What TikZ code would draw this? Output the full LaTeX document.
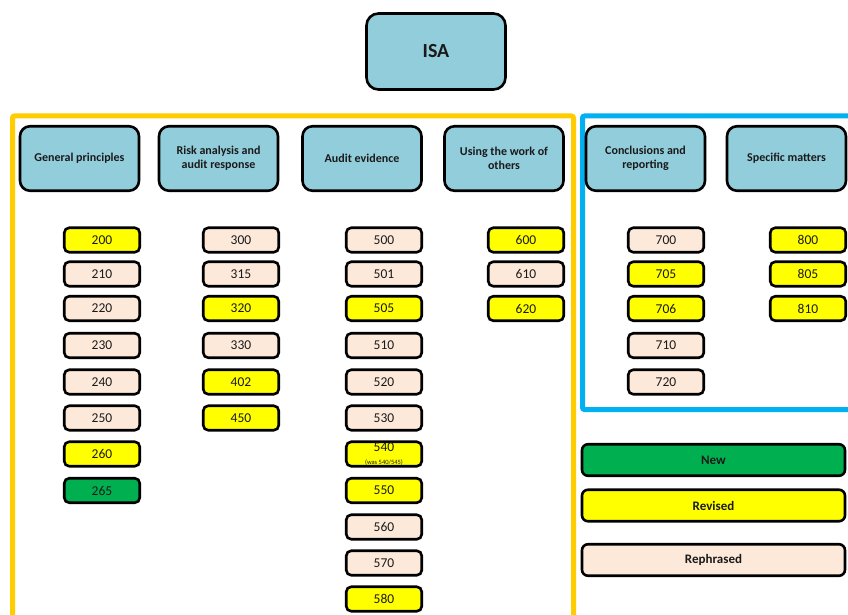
\documentclass[tikz,border=0pt]{standalone}
\usepackage{fontspec}
\setmainfont{Carlito}
\definecolor{catblue}{HTML}{92CDDC}
\definecolor{peach}{HTML}{FDE9D9}
\definecolor{revyellow}{HTML}{FFFF00}
\definecolor{newgreen}{HTML}{00B050}
\definecolor{frameyellow}{HTML}{FFCC00}
\definecolor{frameblue}{HTML}{00B0F0}
\definecolor{txt}{HTML}{1A1A1A}
\tikzset{
  catbox/.style={draw=black, line width=2.6pt, rounded corners=10pt, fill=catblue,
    minimum width=119pt, minimum height=64.5pt, inner sep=0pt, align=center,
    text=txt, font=\fontsize{12}{14}\selectfont\bfseries},
  numbox/.style={draw=black, line width=2.6pt, rounded corners=5pt,
    minimum width=75.5pt, minimum height=24.5pt, inner sep=0pt, align=center,
    text=txt, font=\fontsize{13.5}{14}\selectfont},
  Y/.style={fill=revyellow},
  P/.style={fill=peach},
  G/.style={fill=newgreen},
  legbox/.style={draw=black, line width=2.6pt, rounded corners=6pt,
    minimum width=263pt, minimum height=31.5pt, inner sep=0pt,
    text=txt, font=\fontsize{13}{15}\selectfont\bfseries},
  frame/.style={line width=5pt, rounded corners=2pt}
}
\begin{document}
\begin{tikzpicture}[x=1pt,y=-1pt]
\useasboundingbox (0,0) rectangle (848,615);
\clip (0,0) rectangle (848,615);
\fill[white] (0,0) rectangle (848,615);
% frames
\draw[frame, draw=frameyellow] (12.5,700) -- (12.5,116) -- (573.5,116) -- (573.5,700);
\draw[frame, draw=frameblue] (900,116) -- (582.5,116) -- (582.5,409.5) -- (900,409.5);
% ISA
\node[draw=black, line width=2.6pt, rounded corners=12pt, fill=catblue,
  minimum width=139pt, minimum height=76pt, inner sep=0pt, text=txt,
  font=\fontsize{20}{22}\selectfont\bfseries] (isa) at (436,51.5) {ISA};
% categories
\node[catbox] (c1) at (79.5,158.5) {General principles};
\node[catbox] (c2) at (218.5,158.5) {Risk analysis and\\audit response};
\node[catbox] (c3) at (362,158.5) {Audit evidence};
\node[catbox] (c4) at (504,158.5) {Using the work of\\others};
\node[catbox] (c5) at (645.5,158.5) {Conclusions and\\reporting};
\node[catbox] (c6) at (786.5,158.5) {Specific matters};
% number boxes: column x / row y / label / style
\foreach \x/\y/\t/\s in {
  102/240/200/Y, 102/274/210/P, 102/308.5/220/P, 102/345.5/230/P,
  102/382/240/P, 102/418/250/P, 102/454/260/Y, 102/490.5/265/G,
  241/240/300/P, 241/274/315/P, 241/308.5/320/Y, 241/345.5/330/P,
  241/382/402/Y, 241/418/450/Y,
  384/240/500/P, 384/274/501/P, 384/308.5/505/Y, 384/345.5/510/P,
  384/382/520/P, 384/418/530/P, 384/490.5/550/Y,
  384/527/560/P, 384/563/570/P, 384/599/580/Y,
  526/240/600/Y, 526/274/610/P, 526/308.5/620/Y,
  666/240/700/P, 666/274/705/Y, 666/308.5/706/Y, 666/345.5/710/P, 666/382/720/P,
  808/240/800/Y, 808/274/805/Y, 808/308.5/810/Y}
  {\node[numbox,\s] (n\t) at (\x,\y) {\t};}
\node[numbox,Y] (n540) at (384,454) {\raisebox{0pt}[0pt][0pt]{\raisebox{2.5pt}{540}}};
\node[font=\fontsize{6.5}{7}\selectfont, text=txt, inner sep=0pt] (n540note) at (384,462.5) {(was 540/545)};
% legend
\node[legbox, fill=newgreen] (lnew) at (713.5,460) {New};
\node[legbox, fill=revyellow] (lrev) at (713.5,505.5) {Revised};
\node[legbox, fill=peach] (lreph) at (713.5,560) {Rephrased};
\end{tikzpicture}
\end{document}
